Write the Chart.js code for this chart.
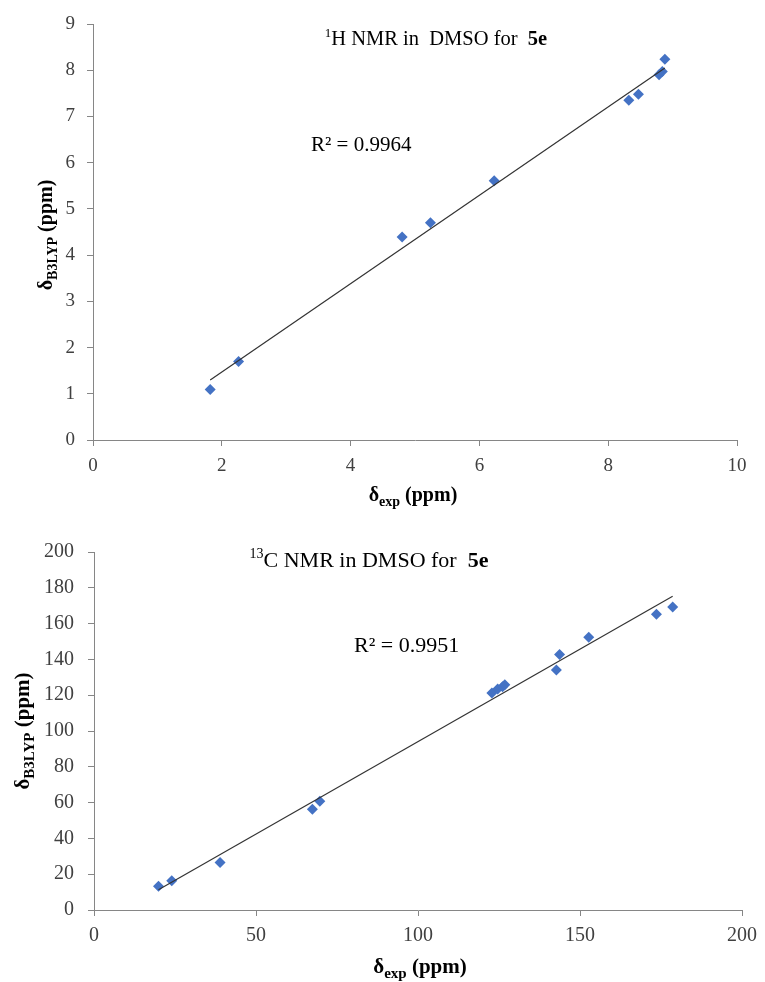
<!DOCTYPE html>
<html>
<head>
<meta charset="utf-8">
<script src="https://cdn.jsdelivr.net/npm/chart.js@4.4.0/dist/chart.umd.min.js"></script>
<style>
  html, body { margin: 0; padding: 0; background: #fff; }
  #wrap { position: relative; width: 765px; height: 982px; }
  .box { position: absolute; left: 0; width: 765px; }
</style>
</head>
<body>
<div id="wrap">
  <div class="box" style="top:0;height:515px"><canvas id="hChart" width="765" height="515"></canvas></div>
  <div class="box" style="top:515px;height:467px"><canvas id="cChart" width="765" height="467"></canvas></div>
</div>
<script>
// 1H NMR: experimental vs B3LYP shifts (ppm)
const hExp  = [1.82, 2.26, 4.80, 5.24, 6.23, 8.32, 8.47, 8.79, 8.84, 8.88];
const hCalc = [1.09, 1.70, 4.39, 4.70, 5.61, 7.35, 7.48, 7.90, 7.97, 8.24];
const hR2 = 'R² = 0.9964';

// 13C NMR: experimental vs B3LYP shifts (ppm)
const cExp  = [19.9, 24.0, 38.9, 67.4, 69.7, 122.8, 124.6, 126.1, 126.8, 142.7, 143.7, 152.7, 173.6, 178.6];
const cCalc = [13.3, 16.3, 26.6, 56.3, 60.8, 121.2, 123.4, 124.7, 125.8, 134.1, 142.7, 152.4, 165.2, 169.3];
const cR2 = 'R² = 0.9951';

const SERIF = '"Liberation Serif", "Times New Roman", serif';
const MARKER = '#4472C4';
const AXIS = '#868686';

function linearFit(xs, ys) {
  const n = xs.length;
  const mx = xs.reduce((a, b) => a + b, 0) / n;
  const my = ys.reduce((a, b) => a + b, 0) / n;
  let sxy = 0, sxx = 0;
  for (let i = 0; i < n; i++) {
    sxy += (xs[i] - mx) * (ys[i] - my);
    sxx += (xs[i] - mx) * (xs[i] - mx);
  }
  const slope = sxy / sxx;
  return { slope, intercept: my - slope * mx };
}

function trendPoints(xs, ys) {
  const fit = linearFit(xs, ys);
  const lo = Math.min(...xs), hi = Math.max(...xs);
  return [lo, hi].map((x) => ({ x, y: fit.intercept + fit.slope * x }));
}

// draw a run of text pieces (for sub/superscripts and mixed weight)
function drawRuns(ctx, runs, x, y, align) {
  const fontOf = (r) => `${r.bold ? 'bold ' : ''}${r.size}px ${SERIF}`;
  let total = 0;
  runs.forEach((r) => { ctx.font = fontOf(r); total += ctx.measureText(r.t).width; });
  let cx = align === 'center' ? x - total / 2 : x;
  ctx.textBaseline = 'alphabetic';
  ctx.textAlign = 'left';
  runs.forEach((r) => {
    ctx.font = fontOf(r);
    ctx.fillText(r.t, cx, y + (r.dy || 0));
    cx += ctx.measureText(r.t).width;
  });
}

function textPlugin(labels) {
  return {
    id: 'texts',
    afterDraw(chart) {
      const ctx = chart.ctx;
      ctx.save();
      ctx.fillStyle = '#000';
      labels.forEach((l) => {
        if (l.rotate) {
          ctx.save();
          ctx.translate(l.x, l.y);
          ctx.rotate(-Math.PI / 2);
          drawRuns(ctx, l.runs, 0, 0, 'center');
          ctx.restore();
        } else {
          drawRuns(ctx, l.runs, l.x, l.y, l.align);
        }
      });
      ctx.restore();
    }
  };
}

function makeChart(id, xs, ys, cfg) {
  const points = xs.map((x, i) => ({ x, y: ys[i] }));
  const ctx = document.getElementById(id).getContext('2d');
  return new Chart(ctx, {
    type: 'scatter',
    data: {
      datasets: [{
        data: trendPoints(xs, ys),
        showLine: true,
        borderColor: '#333',
        borderWidth: 1.2,
        pointRadius: 0,
        order: 0
      }, {
        data: points,
        pointStyle: 'rectRot',
        pointRadius: 5.5,
        pointBackgroundColor: MARKER,
        pointBorderColor: MARKER,
        pointBorderWidth: 0,
        order: 1
      }]
    },
    options: {
      responsive: false,
      animation: false,
      layout: { padding: { left: 0, right: cfg.padRight, top: cfg.padTop, bottom: 0 } },
      plugins: { legend: { display: false }, tooltip: { enabled: false } },
      scales: {
        x: {
          type: 'linear',
          min: cfg.xMin, max: cfg.xMax,
          ticks: { stepSize: cfg.xStep, color: '#404040', font: { family: SERIF, size: cfg.tickSize }, padding: cfg.xPad, maxRotation: 0, autoSkip: false },
          grid: { drawOnChartArea: false, drawTicks: true, tickLength: 6, color: AXIS },
          border: { color: AXIS, width: 1 },
          afterFit: (s) => { s.height = cfg.xHeight; }
        },
        y: {
          type: 'linear',
          min: cfg.yMin, max: cfg.yMax,
          ticks: { stepSize: cfg.yStep, color: '#404040', font: { family: SERIF, size: cfg.tickSize }, padding: cfg.yPad, autoSkip: false },
          grid: { drawOnChartArea: false, drawTicks: true, tickLength: 6, color: AXIS },
          border: { color: AXIS, width: 1 },
          afterFit: (s) => { s.width = cfg.yWidth; }
        }
      }
    },
    plugins: [textPlugin(cfg.labels)]
  });
}

makeChart('hChart', hExp, hCalc, {
  xMin: 0, xMax: 10, xStep: 2, yMin: 0, yMax: 9, yStep: 1,
  padRight: 28, padTop: 24, xHeight: 75, yWidth: 93, xPad: 9, yPad: 12, tickSize: 19,
  labels: [
    { x: 436, y: 45, align: 'center', runs: [
      { t: '1', size: 13, dy: -8 },
      { t: 'H NMR in  DMSO for  ', size: 20.5 },
      { t: '5e', size: 20.5, bold: true }] },
    { x: 311, y: 151, align: 'left', runs: [{ t: hR2, size: 21 }] },
    { x: 413, y: 501, align: 'center', runs: [
      { t: 'δ', size: 20, bold: true },
      { t: 'exp', size: 14, bold: true, dy: 5 },
      { t: ' (ppm)', size: 20, bold: true }] },
    { x: 52, y: 235, rotate: true, runs: [
      { t: 'δ', size: 20, bold: true },
      { t: 'B3LYP', size: 14, bold: true, dy: 5 },
      { t: ' (ppm)', size: 20, bold: true }] }
  ]
});

makeChart('cChart', cExp, cCalc, {
  xMin: 0, xMax: 200, xStep: 50, yMin: 0, yMax: 200, yStep: 20,
  padRight: 20, padTop: 37, xHeight: 72, yWidth: 94, xPad: 8, yPad: 14, tickSize: 20,
  labels: [
    { x: 369, y: 52, align: 'center', runs: [
      { t: '13', size: 14, dy: -9 },
      { t: 'C NMR in DMSO for  ', size: 22 },
      { t: '5e', size: 22, bold: true }] },
    { x: 354, y: 137, align: 'left', runs: [{ t: cR2, size: 22 }] },
    { x: 420, y: 458, align: 'center', runs: [
      { t: 'δ', size: 21, bold: true },
      { t: 'exp', size: 15, bold: true, dy: 5 },
      { t: ' (ppm)', size: 21, bold: true }] },
    { x: 29, y: 216, rotate: true, runs: [
      { t: 'δ', size: 21, bold: true },
      { t: 'B3LYP', size: 15, bold: true, dy: 5 },
      { t: ' (ppm)', size: 21, bold: true }] }
  ]
});
</script>
</body>
</html>
